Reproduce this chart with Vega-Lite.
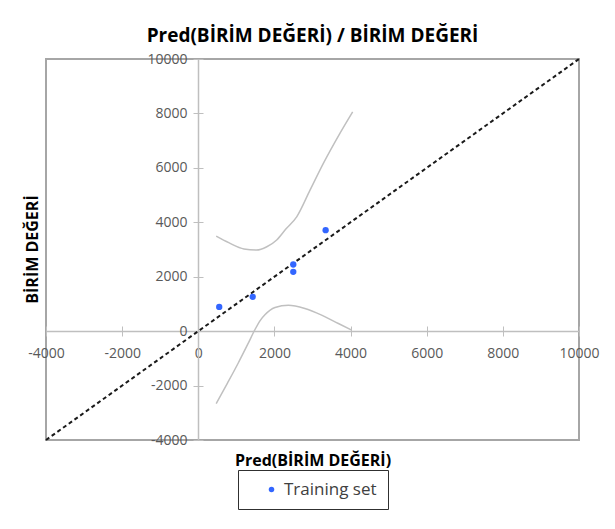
{
  "$schema": "https://vega.github.io/schema/vega-lite/v6.json",
  "width": 533,
  "height": 381,
  "autosize": {"type": "none"},
  "padding": {"left": 46, "top": 59, "right": 36, "bottom": 89},
  "background": "white",
  "title": {"text": "Pred(BİRİM DEĞERİ) / BİRİM DEĞERİ", "font": "Open Sans", "fontSize": 19, "fontWeight": "bold", "color": "#000000", "anchor": "middle", "offset": 6},
  "datasets": {
    "points": [
      {"pred": 550, "obs": 890, "series": "Training set"},
      {"pred": 1430, "obs": 1260, "series": "Training set"},
      {"pred": 2495, "obs": 2450, "series": "Training set"},
      {"pred": 2495, "obs": 2180, "series": "Training set"},
      {"pred": 3345, "obs": 3710, "series": "Training set"}
    ],
    "bands": [
      {"pred": 470, "val": 3490, "bound": "upper"},
      {"pred": 800, "val": 3250, "bound": "upper"},
      {"pred": 1200, "val": 3020, "bound": "upper"},
      {"pred": 1530, "val": 2980, "bound": "upper"},
      {"pred": 1800, "val": 3100, "bound": "upper"},
      {"pred": 2060, "val": 3350, "bound": "upper"},
      {"pred": 2300, "val": 3750, "bound": "upper"},
      {"pred": 2585, "val": 4200, "bound": "upper"},
      {"pred": 2935, "val": 5180, "bound": "upper"},
      {"pred": 3285, "val": 6165, "bound": "upper"},
      {"pred": 3720, "val": 7270, "bound": "upper"},
      {"pred": 4055, "val": 8060, "bound": "upper"},
      {"pred": 470, "val": -2660, "bound": "lower"},
      {"pred": 770, "val": -1900, "bound": "lower"},
      {"pred": 1050, "val": -1170, "bound": "lower"},
      {"pred": 1300, "val": -480, "bound": "lower"},
      {"pred": 1490, "val": 60, "bound": "lower"},
      {"pred": 1620, "val": 380, "bound": "lower"},
      {"pred": 1750, "val": 600, "bound": "lower"},
      {"pred": 2015, "val": 870, "bound": "lower"},
      {"pred": 2365, "val": 955, "bound": "lower"},
      {"pred": 2800, "val": 835, "bound": "lower"},
      {"pred": 3240, "val": 590, "bound": "lower"},
      {"pred": 3680, "val": 280, "bound": "lower"},
      {"pred": 4030, "val": 35, "bound": "lower"}
    ],
    "diag": [
      {"pred": -4000, "val": -4000},
      {"pred": 10000, "val": 10000}
    ]
  },
  "config": {
    "view": {"stroke": "#a6a6a6", "strokeWidth": 2},
    "axis": {
      "grid": false,
      "domainColor": "#bfbfbf",
      "domainWidth": 1.5,
      "tickColor": "#bfbfbf",
      "tickWidth": 1,
      "labelColor": "#595959",
      "labelFont": "Open Sans",
      "labelFontSize": 14,
      "titleFont": "Open Sans",
      "titleFontSize": 16,
      "titleFontWeight": "bold",
      "titleColor": "#000000"
    }
  },
  "layer": [
    {
      "data": {"name": "bands"},
      "mark": {"type": "line", "color": "#c0c0c0", "strokeWidth": 1.5, "interpolate": "monotone"},
      "encoding": {
        "x": {"field": "pred", "type": "quantitative", "scale": {"domain": [-4000, 10000], "nice": false, "zero": false},
          "axis": {"orient": "bottom", "offset": -109, "values": [-4000, -2000, 0, 2000, 4000, 6000, 8000, 10000], "labelExpr": "'' + datum.value", "tickSize": 5, "labelPadding": 10, "labelOverlap": false, "labelBound": false, "labelFlush": false,
            "title": "Pred(BİRİM DEĞERİ)", "titleY": 129, "titleBaseline": "middle"}},
        "y": {"field": "val", "type": "quantitative", "scale": {"domain": [-4000, 10000], "nice": false, "zero": false},
          "axis": {"orient": "left", "offset": -152, "values": [-4000, -2000, 0, 2000, 4000, 6000, 8000, 10000], "labelExpr": "'' + datum.value", "tickSize": 5, "labelPadding": 6, "labelOverlap": false, "labelBound": false, "labelFlush": false,
            "title": "BİRİM DEĞERİ", "titleX": -166, "titleY": 190, "titleBaseline": "middle", "titleAngle": -90}},
        "detail": {"field": "bound", "type": "nominal"}
      }
    },
    {
      "data": {"name": "diag"},
      "mark": {"type": "line", "color": "#1a1a1a", "strokeWidth": 2, "strokeDash": [4, 3]},
      "encoding": {
        "x": {"field": "pred", "type": "quantitative",
          "axis": {"orient": "bottom", "offset": -109, "values": [-4000, -2000, 0, 2000, 4000, 6000, 8000, 10000], "tickSize": -5, "labels": false, "domain": false, "title": null}},
        "y": {"field": "val", "type": "quantitative",
          "axis": {"orient": "left", "offset": -152, "values": [-4000, -2000, 0, 2000, 4000, 6000, 8000, 10000], "tickSize": -5, "labels": false, "domain": false, "title": null}}
      }
    },
    {
      "data": {"name": "points"},
      "mark": {"type": "point", "filled": true, "opacity": 1, "size": 40},
      "encoding": {
        "x": {"field": "pred", "type": "quantitative", "axis": null},
        "y": {"field": "obs", "type": "quantitative", "axis": null},
        "color": {"field": "series", "type": "nominal", "scale": {"range": ["#3366ff"]},
          "legend": {"title": null, "orient": "none", "legendX": 192, "legendY": 411, "strokeColor": "#303030", "fillColor": "#ffffff", "padding": 11, "symbolType": "circle", "symbolSize": 30, "symbolOffset": 14, "labelFont": "Open Sans", "labelFontSize": 17, "labelColor": "#404040"}}
      }
    }
  ],
  "resolve": {"axis": {"x": "independent", "y": "independent"}}
}
